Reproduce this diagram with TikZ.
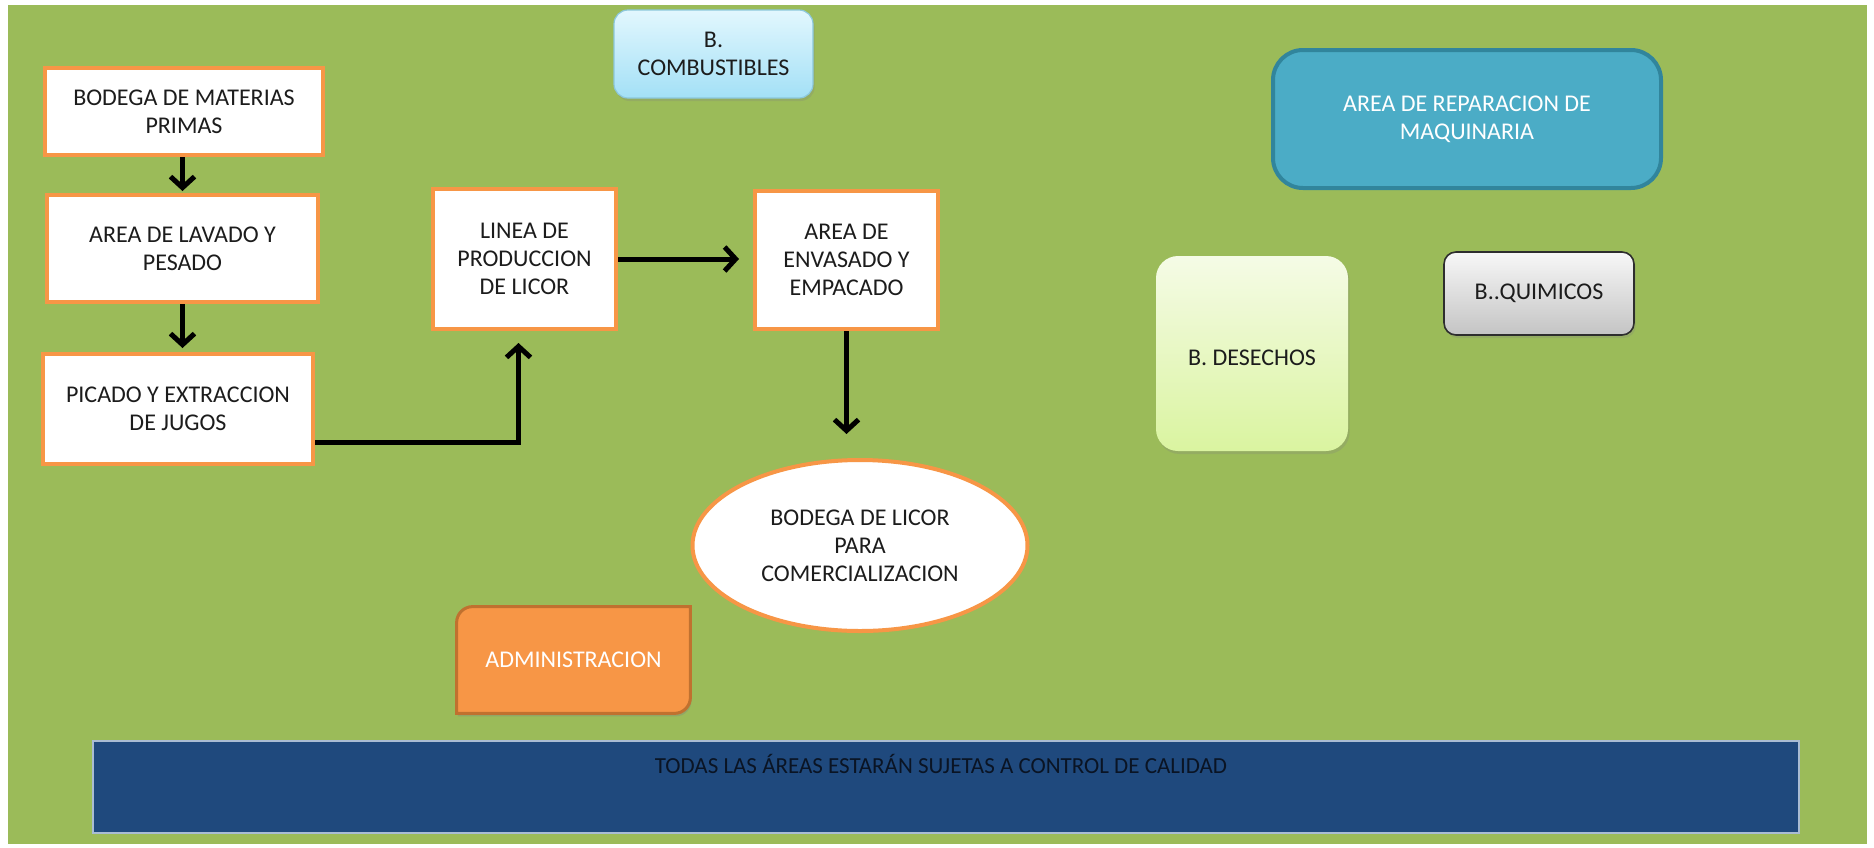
\documentclass[tikz,border=0pt]{standalone}
\usepackage{fontspec}
\setmainfont{Carlito}
\usetikzlibrary{arrows.meta,shadows,calc,shapes.geometric}
\definecolor{bggreen}{HTML}{9BBB59}
\definecolor{orangeline}{HTML}{F79646}
\definecolor{txtdark}{HTML}{1C1C1C}
\definecolor{repfill}{HTML}{4BACC6}
\definecolor{repline}{HTML}{31859C}
\definecolor{admfill}{HTML}{F79646}
\definecolor{admline}{HTML}{C0712F}
\definecolor{barfill}{HTML}{1F497D}
\definecolor{barline}{HTML}{A9BCD3}
\definecolor{bartext}{HTML}{0A1424}
\definecolor{combtop}{HTML}{E2F7FE}
\definecolor{combbot}{HTML}{A3E0F6}
\definecolor{combline}{HTML}{8CC8DC}
\definecolor{destop}{HTML}{F5FBE6}
\definecolor{desbot}{HTML}{DAF4A0}
\definecolor{quitop}{HTML}{F7F7F7}
\definecolor{quibot}{HTML}{C4C4C4}
\definecolor{quiline}{HTML}{2E2E2E}
\pgfdeclarelayer{bg}
\pgfdeclarelayer{mid}
\pgfsetlayers{bg,mid,main}
\tikzset{
  procbox/.style={draw=orangeline, line width=2pt, fill=white, align=center,
    text=txtdark, inner sep=2pt},
  flow/.style={line width=2.5pt,
    -{Straight Barb[length=5.5pt,width=12pt]}},
  softshadow/.style={drop shadow={opacity=0.25, shadow xshift=0.8pt, shadow yshift=-1.5pt}},
}
\begin{document}
\begin{tikzpicture}[x=0.5pt,y=-0.5pt,font=\fontsize{12}{14}\selectfont]
\useasboundingbox (0,0) rectangle (1874,847);
\begin{pgfonlayer}{bg}
\fill[bggreen] (8,5) rectangle (1867,844);
\end{pgfonlayer}

% process boxes
\node[procbox, minimum width=139pt, minimum height=43.5pt] (bmp) at (184,111.5) {BODEGA DE MATERIAS\\PRIMAS};
\node[procbox, minimum width=135.5pt, minimum height=53.5pt] (lav) at (182.5,248.5) {AREA DE LAVADO Y\\PESADO};
\node[procbox, minimum width=135pt, minimum height=55pt] (pic) at (178,409) {PICADO Y EXTRACCION\\DE JUGOS};
\node[procbox, minimum width=91.5pt, minimum height=70pt] (lin) at (524.5,259) {LINEA DE\\PRODUCCION\\DE LICOR};
\node[procbox, minimum width=91.5pt, minimum height=69pt] (env) at (846.5,260) {AREA DE\\ENVASADO Y\\EMPACADO};
\node[procbox, ellipse, minimum width=167.5pt, minimum height=85.5pt, inner sep=0pt] (bod) at (860,545.5) {BODEGA DE LICOR\\PARA\\COMERCIALIZACION};

% other areas
\node[softshadow, draw=combline, line width=0.6pt, top color=combtop, bottom color=combbot,
  rounded corners=7pt, minimum width=99.5pt, minimum height=44pt, align=center, text=txtdark]
  (comb) at (713.5,54) {B.\\COMBUSTIBLES};
\node[draw=repline, line width=2pt, fill=repfill, rounded corners=15pt,
  minimum width=194pt, minimum height=69pt, align=center, text=white]
  (rep) at (1467,119) {AREA DE REPARACION DE\\MAQUINARIA};
\node[softshadow, top color=destop, bottom color=desbot, rounded corners=11pt,
  minimum width=96pt, minimum height=97.5pt, align=center, text=txtdark,
  text height=14pt, text depth=2pt]
  (des) at (1252,353.5) {B. DESECHOS};
\node[softshadow, draw=quiline, line width=0.8pt, top color=quitop, bottom color=quibot,
  rounded corners=6pt, minimum width=95pt, minimum height=41.5pt, align=center, text=txtdark]
  (qui) at (1539,293.5) {B..QUIMICOS};

% administracion
\node[minimum width=116.5pt, minimum height=53pt, text=white] (adm) at (573.5,660) {ADMINISTRACION};
\begin{pgfonlayer}{mid}
\draw[fill=admfill, draw=admline, line width=1.5pt,
  drop shadow={opacity=0.35, shadow xshift=0.6pt, shadow yshift=-1.5pt}]
  (adm.south west) -- ([yshift=-8pt]adm.north west)
  arc[start angle=180, end angle=90, radius=8pt]
  -- (adm.north east) -- ([yshift=8pt]adm.south east)
  arc[start angle=0, end angle=-90, radius=8pt] -- cycle;
\end{pgfonlayer}

% quality bar
\node[fill=barfill, draw=barline, line width=1pt, minimum width=853pt, minimum height=46pt] (bar) at (946,787) {};
\node[text=bartext, font=\fontsize{11.5}{13}\selectfont] (bartxt) at ($(bar.north)+(-5,24)$) {TODAS LAS ÁREAS ESTARÁN SUJETAS A CONTROL DE CALIDAD};

% connectors
\draw[flow, shorten >=1pt] (lav.north |- bmp.south) -- (lav.north);
\draw[flow, shorten >=2pt] (lav.south) -- (lav.south |- pic.north);
\draw[flow, shorten >=6pt] ([yshift=-16.5pt]pic.east) -| ([xshift=-3pt]lin.south);
\draw[flow, shorten >=7pt] (lin.east) -- (lin.east -| env.west);
\draw[flow, shorten >=12pt] (env.south) -- (env.south |- bod.north);
\end{tikzpicture}
\end{document}
